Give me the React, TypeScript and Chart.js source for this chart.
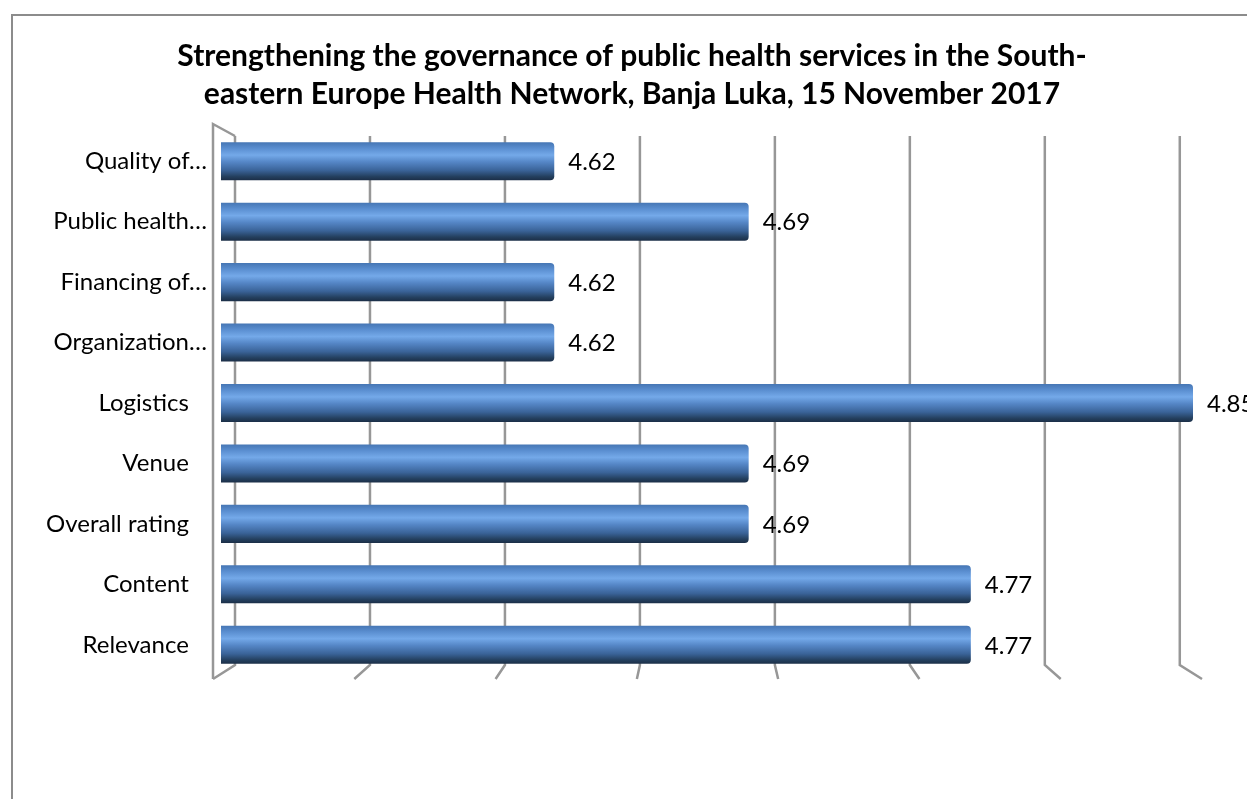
import { useEffect, useRef } from 'react';
import { Chart, registerables } from 'chart.js';

Chart.register(...registerables);

const titleLines = [
  'Strengthening the governance of public health services in the South-',
  'eastern Europe Health Network, Banja Luka, 15 November 2017',
];
const categories = [
  'Quality of…',
  'Public health…',
  'Financing of…',
  'Organization…',
  'Logistics',
  'Venue',
  'Overall rating',
  'Content',
  'Relevance',
];
const ratings = [4.62, 4.69, 4.62, 4.62, 4.85, 4.69, 4.69, 4.77, 4.77];
const gridValues = [4.5, 4.55, 4.6, 4.65, 4.7, 4.75, 4.8, 4.85];
const axisMin = 4.5;
const axisMax = 4.85;

const FONT = 'Lato, "Open Sans", sans-serif';
const BAR_PCT = 0.63;

const borderPlugin = {
  id: 'outerBorder',
  beforeDraw(chart: any) {
    const c = chart.ctx;
    c.save();
    c.strokeStyle = '#8c8c8c';
    c.lineWidth = 2;
    c.strokeRect(12, 15, 1260, 820);
    c.restore();
  },
};

// let the category labels use the whole left margin instead of being clipped
const labelRoomPlugin = {
  id: 'labelRoom',
  afterLayout(chart: any) {
    const ys = chart.scales.y;
    if (ys) ys.left = 0;
  },
};

const wallPlugin = {
  id: 'wallGrid',
  beforeDatasetsDraw(chart: any) {
    const { left, top, bottom } = chart.chartArea;
    const xs = chart.scales.x;
    const c = chart.ctx;
    c.save();
    c.strokeStyle = '#979797';
    c.lineWidth = 2.5;
    c.lineJoin = 'miter';
    const back = (m: number) => left + 14 + (m - left) * 0.972;
    const front = (m: number) => left - 8 + (m - left) * 1.0175;
    gridValues.forEach((v) => {
      const m = xs.getPixelForValue(v);
      c.beginPath();
      c.moveTo(back(m), top + 5);
      c.lineTo(back(m), bottom - 10);
      c.lineTo(front(m), bottom + 4);
      c.stroke();
    });
    const m0 = xs.getPixelForValue(gridValues[0]);
    c.beginPath();
    c.moveTo(back(m0), top + 5);
    c.lineTo(front(m0), top - 7);
    c.lineTo(front(m0), bottom + 4);
    c.stroke();
    c.restore();
  },
};

const valueLabelPlugin = {
  id: 'valueLabels',
  afterDatasetsDraw(chart: any) {
    const meta = chart.getDatasetMeta(0);
    const c = chart.ctx;
    c.save();
    c.font = `24px ${FONT}`;
    c.fillStyle = '#000';
    c.textAlign = 'left';
    c.textBaseline = 'middle';
    meta.data.forEach((el: any, i: number) => {
      c.fillText(ratings[i].toFixed(2), el.x + 14, el.y + 1);
    });
    c.restore();
  },
};

function barGradient(ctx: any) {
  const chart = ctx.chart;
  const ys = chart.scales && chart.scales.y;
  if (!ys || ctx.dataIndex == null || !chart.chartArea) return '#4f81bd';
  const cy = ys.getPixelForValue(ctx.dataIndex);
  const half = (chart.chartArea.height / categories.length) * BAR_PCT / 2;
  const g = chart.ctx.createLinearGradient(0, cy - half, 0, cy + half);
  g.addColorStop(0, '#4676b4');
  g.addColorStop(0.16, '#5a8ed0');
  g.addColorStop(0.34, '#74a9e9');
  g.addColorStop(0.52, '#5586c6');
  g.addColorStop(0.74, '#3a6398');
  g.addColorStop(0.9, '#24405f');
  g.addColorStop(1, '#1b2e47');
  return g;
}

export default function App() {
  const ref = useRef<HTMLCanvasElement>(null);
  useEffect(() => {
    document.body.style.overflow = 'hidden';
    const chart = new Chart(ref.current as HTMLCanvasElement, {
      type: 'bar',
      data: {
        labels: categories,
        datasets: [
          {
            data: ratings,
            backgroundColor: barGradient as any,
            borderWidth: 0,
            borderSkipped: false,
            borderRadius: { topLeft: 8, bottomLeft: 8, topRight: 4, bottomRight: 4 },
            barPercentage: BAR_PCT,
            categoryPercentage: 1,
          },
        ],
      },
      options: {
        indexAxis: 'y',
        animation: false,
        responsive: false,
        layout: { padding: { left: 71, right: 54, top: 38, bottom: 124 } },
        plugins: {
          legend: { display: false },
          tooltip: { enabled: false },
          title: {
            display: true,
            text: titleLines,
            color: '#000',
            font: { family: FONT, size: 30, weight: 'bold', lineHeight: 1.25 },
            padding: { top: 0, bottom: 18 },
          },
        },
        scales: {
          x: {
            type: 'linear',
            min: axisMin,
            max: axisMax,
            display: false,
            ticks: { stepSize: 0.05 },
          },
          y: {
            type: 'category',
            grid: { display: false, drawTicks: false },
            border: { display: false },
            ticks: {
              color: '#000',
              padding: 14,
              font: { family: FONT, size: 24 },
              callback(this: any, value: any) {
                const label = String(this.getLabelForValue(value));
                // full-length labels sit a little further left than truncated ones
                return label.endsWith('…') ? label : label + '\u2002 ';
              },
            },
            afterFit(axis: any) {
              axis.width = 150;
            },
          },
        },
      },
      plugins: [borderPlugin, labelRoomPlugin, wallPlugin, valueLabelPlugin],
    });
    return () => chart.destroy();
  }, []);
  return (
    <div style={{ position: 'fixed', left: 0, top: 0, width: 1247, height: 799, overflow: 'hidden', background: '#fff' }}>
      <canvas ref={ref} width={1247} height={799} style={{ display: 'block' }} />
    </div>
  );
}
